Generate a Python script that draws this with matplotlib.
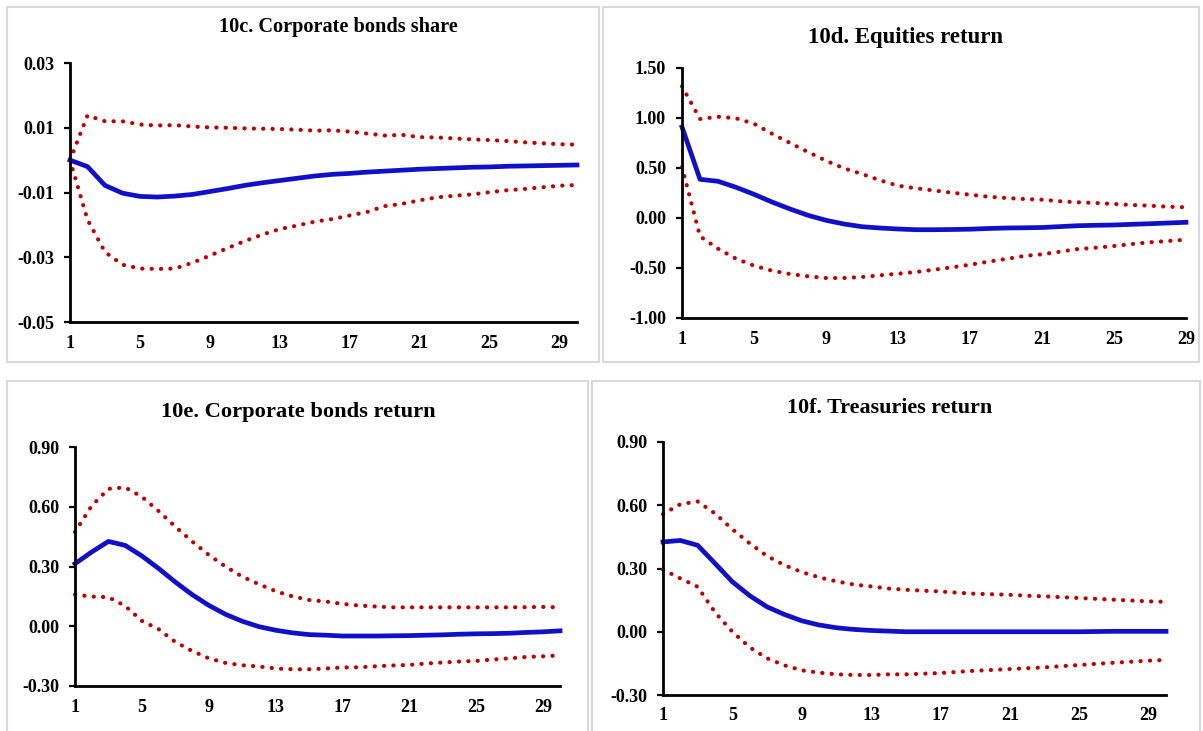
import numpy as np
import matplotlib
matplotlib.use("Agg")
import matplotlib.pyplot as plt
from matplotlib.patches import Rectangle

plt.rcParams['font.family'] = ['Liberation Serif', 'DejaVu Serif']
plt.rcParams['axes.unicode_minus'] = False

# ---- data ----
# 10c. Corporate bonds share (30 periods)
c_mid = [0.0, -0.002, -0.0078, -0.0102, -0.0112, -0.0114, -0.0111, -0.0106, -0.0097, -0.0088,
         -0.0078, -0.0070, -0.0063, -0.0056, -0.0049, -0.0044, -0.0041, -0.0037, -0.0034, -0.0031,
         -0.0028, -0.0026, -0.0024, -0.0022, -0.0021, -0.0019, -0.0018, -0.0017, -0.0016, -0.0015]
c_up = [0.0, 0.0138, 0.0120, 0.0120, 0.0110, 0.0107, 0.0108, 0.0104, 0.0101, 0.0100,
        0.0098, 0.0097, 0.0096, 0.0094, 0.0091, 0.0092, 0.0088, 0.0082, 0.0076, 0.0078,
        0.0071, 0.0070, 0.0067, 0.0064, 0.0062, 0.0059, 0.0055, 0.0052, 0.0049, 0.0048]
c_lo = [0.0, -0.0184, -0.0284, -0.0323, -0.0335, -0.0336, -0.0335, -0.0317, -0.0295, -0.0272,
        -0.0250, -0.0230, -0.0213, -0.0202, -0.0190, -0.0182, -0.0171, -0.0160, -0.0142, -0.0135,
        -0.0124, -0.0115, -0.0110, -0.0106, -0.0099, -0.0093, -0.0089, -0.0084, -0.0079, -0.0077]

# 10d. Equities return (29 periods)
d_mid = [0.91, 0.387, 0.367, 0.307, 0.237, 0.16, 0.09, 0.027, -0.023, -0.06,
         -0.087, -0.10, -0.11, -0.117, -0.117, -0.115, -0.112, -0.105, -0.10, -0.098,
         -0.095, -0.086, -0.077, -0.073, -0.07, -0.063, -0.057, -0.05, -0.043]
d_up = [1.317, 0.99, 1.013, 0.997, 0.943, 0.843, 0.75, 0.66, 0.573, 0.497,
        0.44, 0.377, 0.323, 0.297, 0.275, 0.253, 0.233, 0.213, 0.20, 0.19,
        0.183, 0.167, 0.157, 0.15, 0.14, 0.13, 0.123, 0.113, 0.107]
d_lo = [0.51, -0.183, -0.307, -0.407, -0.477, -0.527, -0.56, -0.583, -0.60, -0.60,
        -0.59, -0.573, -0.557, -0.54, -0.517, -0.493, -0.467, -0.437, -0.41, -0.38,
        -0.363, -0.337, -0.31, -0.297, -0.28, -0.26, -0.243, -0.23, -0.217]

# 10e. Corporate bonds return (30 periods)
e_mid = [0.314, 0.373, 0.426, 0.406, 0.353, 0.29, 0.222, 0.159, 0.105, 0.06,
         0.025, -0.002, -0.02, -0.033, -0.042, -0.045, -0.049, -0.049, -0.049, -0.048,
         -0.047, -0.045, -0.043, -0.040, -0.038, -0.037, -0.035, -0.031, -0.028, -0.023]
e_up = [0.473, 0.605, 0.69, 0.697, 0.65, 0.578, 0.50, 0.426, 0.358, 0.30,
        0.249, 0.211, 0.176, 0.15, 0.132, 0.124, 0.112, 0.104, 0.099, 0.095,
        0.095, 0.095, 0.095, 0.095, 0.095, 0.095, 0.095, 0.096, 0.097, 0.095]
e_lo = [0.159, 0.149, 0.146, 0.102, 0.027, -0.015, -0.079, -0.124, -0.161, -0.184,
        -0.196, -0.202, -0.212, -0.216, -0.216, -0.212, -0.207, -0.206, -0.201, -0.197,
        -0.194, -0.187, -0.182, -0.177, -0.174, -0.167, -0.161, -0.154, -0.151, -0.146]

# 10f. Treasuries return (30 periods)
f_mid = [0.426, 0.433, 0.41, 0.324, 0.237, 0.171, 0.118, 0.082, 0.052, 0.032,
         0.019, 0.011, 0.006, 0.003, 0.0, 0.0, 0.0, 0.0, 0.0, 0.0,
         0.0, 0.0, 0.0, 0.0, 0.0, 0.001, 0.002, 0.002, 0.002, 0.002]
f_up = [0.558, 0.605, 0.618, 0.561, 0.486, 0.419, 0.359, 0.316, 0.283, 0.258,
        0.239, 0.224, 0.215, 0.205, 0.199, 0.195, 0.191, 0.185, 0.18, 0.178,
        0.175, 0.171, 0.168, 0.164, 0.16, 0.156, 0.152, 0.148, 0.144, 0.142]
f_lo = [0.295, 0.253, 0.213, 0.092, 0.0, -0.074, -0.126, -0.159, -0.183, -0.194,
        -0.202, -0.205, -0.205, -0.202, -0.202, -0.199, -0.196, -0.19, -0.185, -0.181,
        -0.177, -0.173, -0.169, -0.163, -0.158, -0.152, -0.147, -0.142, -0.137, -0.134]

titles = ["10c. Corporate bonds share", "10d. Equities return",
          "10e. Corporate bonds return", "10f. Treasuries return"]
yticks_c = [-0.05, -0.03, -0.01, 0.01, 0.03]
yticks_d = [-1.0, -0.5, 0.0, 0.5, 1.0, 1.5]
yticks_ef = [-0.3, 0.0, 0.3, 0.6, 0.9]
xticks = [1, 5, 9, 13, 17, 21, 25, 29]

W, H = 1203, 731
fig = plt.figure(figsize=(W / 100, H / 100), dpi=100)

# panel frames (pixels: left, top, right, bottom)
frames = [(7, 7, 599, 362), (603, 7, 1199, 362), (7, 381, 588, 735), (592, 381, 1200, 735)]
for l, t, r, b in frames:
    fig.patches.append(Rectangle((l / W, 1 - b / H), (r - l) / W, (b - t) / H,
                                 transform=fig.transFigure, fill=False,
                                 edgecolor='#d9d9d9', linewidth=1.5))

# axes boxes in pixels: left, top, right, bottom
boxes = [(70, 63, 577, 322), (682, 68, 1186, 318), (75, 447, 560, 686), (663, 442, 1166, 695)]
title_pos = [(338, 27, 14.6), (905, 37, 16.4), (298, 412, 16.2), (890, 408, 15.8)]
series = [(c_mid, c_up, c_lo, yticks_c), (d_mid, d_up, d_lo, yticks_d),
          (e_mid, e_up, e_lo, yticks_ef), (f_mid, f_up, f_lo, yticks_ef)]

for i in range(4):
    l, t, r, b = boxes[i]
    ax = fig.add_axes([l / W, 1 - b / H, (r - l) / W, (b - t) / H])
    mid, up, lo, yt = series[i]
    x = np.arange(1, len(mid) + 1)
    for band in (up, lo):
        ax.plot(x, band, color='#C00000', linewidth=3.0, linestyle=(0, (0.05, 2.2)),
                dash_capstyle='round', clip_on=False, zorder=2)
    ax.plot(x, mid, color='#1010C8', linewidth=3.4, solid_joinstyle='round',
            clip_on=False, zorder=3)
    ax.set_xlim(1, len(mid))
    ax.set_ylim(yt[0], yt[-1])
    ax.set_xticks(xticks)
    ax.set_xticklabels([str(v) for v in xticks])
    ax.set_yticks(yt)
    ax.set_yticklabels(["%.2f" % v for v in yt])
    for side in ('top', 'right'):
        ax.spines[side].set_visible(False)
    for side in ('left', 'bottom'):
        ax.spines[side].set_linewidth(2.0)
        ax.spines[side].set_color('black')
        ax.spines[side].set_zorder(4)
    ax.tick_params(axis='y', direction='out', length=4.5, width=1.6, pad=7,
                   labelsize=13)
    ax.tick_params(axis='x', length=0, pad=9, labelsize=13)
    for lab in ax.get_xticklabels() + ax.get_yticklabels():
        lab.set_fontweight('bold')
    tx, ty, ts = title_pos[i]
    fig.text(tx / W, 1 - ty / H, titles[i], ha='center', va='center',
             fontsize=ts, fontweight='bold')

fig.savefig("out.png", dpi=100)
